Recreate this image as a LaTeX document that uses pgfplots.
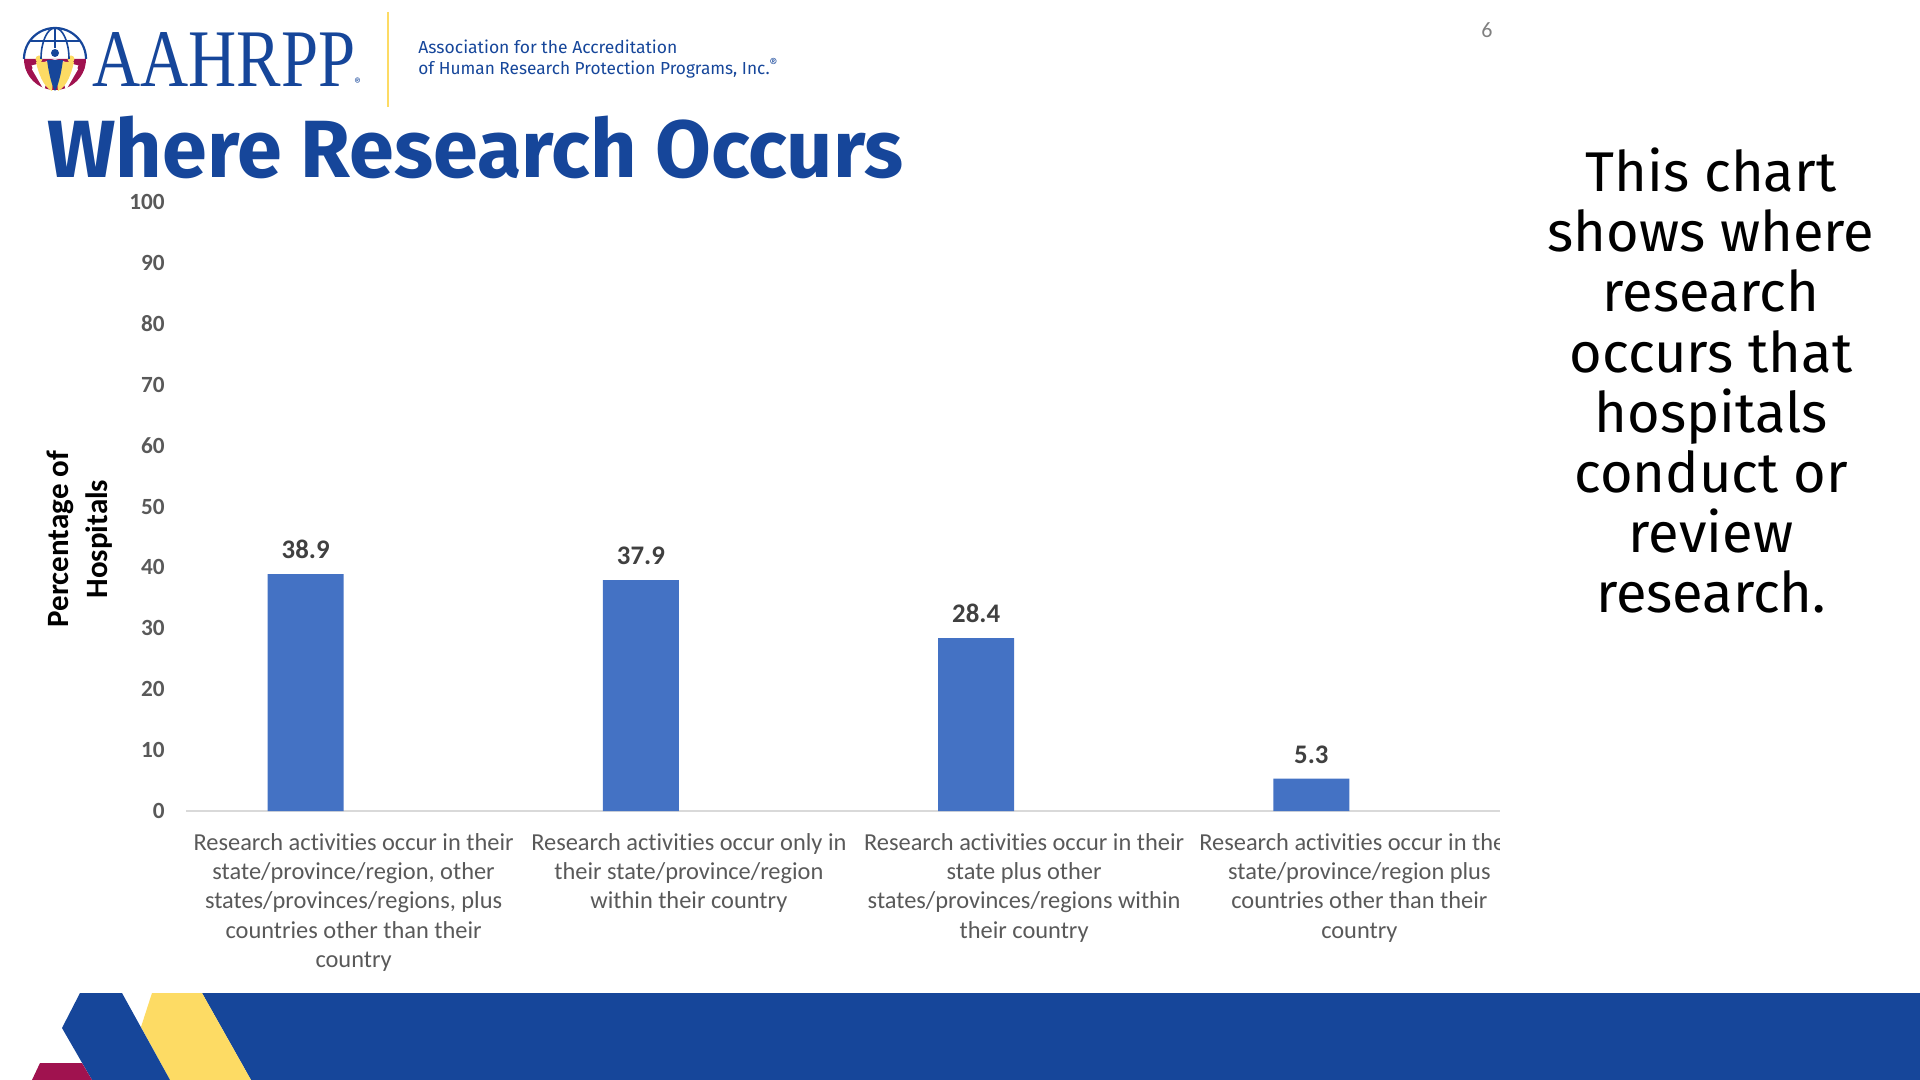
\documentclass[border=0pt]{standalone}
\usepackage{fontspec}
\setmainfont{Carlito}[Ligatures=NoCommon]
\newfontfamily\fira{Fira Sans}
\newfontfamily\libserif{Liberation Serif}
\usepackage{graphicx}
\usepackage{pgfplots}
\pgfplotsset{compat=1.18}
\definecolor{brand}{HTML}{16469A}
\definecolor{brandyellow}{HTML}{FDDB64}
\definecolor{crimson}{HTML}{A0124F}
\definecolor{barblue}{HTML}{4472C4}
\definecolor{tickgray}{HTML}{595959}
\definecolor{labelgray}{HTML}{404040}
\definecolor{axisgray}{HTML}{D9D9D9}
\begin{document}
\begin{tikzpicture}
\useasboundingbox (0,0) rectangle (960pt,-540pt);
\begin{scope}[x=0.5pt,y=-0.5pt]
  % bottom banner
  \fill[brand] (202,993) -- (1920,993) -- (1920,1080) -- (251,1080) -- cycle;
  \fill[brandyellow] (152,993) -- (202,993) -- (251,1080) -- (170,1080) -- (141,1027) -- cycle;
  \fill[brand] (80,993) -- (122,993) -- (170,1080) -- (92,1080) -- (62,1028) -- cycle;
  \fill[crimson] (40,1063) -- (82,1063) -- (92,1080) -- (32,1080) -- cycle;
  % globe logo
  \fill[crimson] (86,59) arc[start angle=0,end angle=180,radius=31] -- cycle;
  \fill[white] (55,59) -- (30,66) -- (44,90) -- cycle;
  \fill[white] (55,59) -- (80,66) -- (66,90) -- cycle;
  \fill[brandyellow] (36,62) .. controls (40,80) and (46,88) .. (52,91) -- (55,62) -- cycle;
  \fill[brandyellow] (74,62) .. controls (70,80) and (64,88) .. (58,91) -- (55,62) -- cycle;
  \fill[brand] (47,60) .. controls (49,75) and (52,86) .. (55,91) .. controls (58,86) and (61,75) .. (63,60) -- cycle;
  \fill[brand] (55,53) circle (4);
  \fill[brandyellow] (39,59) circle (3.5);
  \fill[brandyellow] (71,59) circle (3.5);
  \fill[crimson] (29,68) circle (3.5);
  \fill[crimson] (81,68) circle (3.5);
  \draw[brand, line width=1.1pt] (24,59) arc[start angle=180,end angle=360,radius=31];
  \draw[brand, line width=0.8pt] (55,28) -- (55,48);
  \draw[brand, line width=0.8pt] (41,59) arc[start angle=180,end angle=360,x radius=14,y radius=31];
  \draw[brand, line width=0.8pt] (30,41) -- (80,41);
  \node[anchor=base west, inner sep=0pt, text=brand] at (92,87)
    {\resizebox{131.5pt}{27pt}{\libserif AAHRPP}};
  \node[anchor=base west, inner sep=0pt, text=brand, font=\fira\fontsize{5}{6}\selectfont] at (354,86) {®};
  \draw[brandyellow, line width=1pt] (388,12) -- (388,107);
  \node[anchor=base west, inner sep=0pt, text=brand] at (418,54)
    {\resizebox{129.5pt}{\height}{\fira\fontsize{8.7}{10}\selectfont Association for the Accreditation}};
  \node[anchor=base west, inner sep=0pt, text=brand] at (418,75)
    {\resizebox{180pt}{\height}{\fira\fontsize{8.7}{10}\selectfont of Human Research Protection Programs, Inc.\textsuperscript{®}}};
  % page number
  \node[inner sep=0pt, text=gray, font=\fontsize{11}{13}\selectfont] at (1487,30) {6};
  % title
  \node[anchor=base west, inner sep=0pt, text=brand] at (47,178)
    {\resizebox{428pt}{\height}{\fira\bfseries\fontsize{40.6}{44}\selectfont Where Research Occurs}};
\end{scope}
\begin{axis}[
  at={(93pt,-405.5pt)}, anchor=south west,
  scale only axis, width=670.5pt, height=304.5pt,
  xmin=-0.5, xmax=3.5, ymin=0, ymax=100,
  ybar, bar width=38pt, bar shift=-24pt,
  axis line style={draw=none},
  tick style={draw=none},
  major tick length=0pt,
  ytick={0,10,...,100},
  xtick={0,1,2,3},
  xticklabels={
    {Research activities occur in their\\state/province/region, other\\states/provinces/regions, plus\\countries other than their\\country},
    {Research activities occur only in\\their state/province/region\\within their country},
    {Research activities occur in their\\state plus other\\states/provinces/regions within\\their country},
    {Research activities occur in their\\state/province/region plus\\countries other than their\\country}},
  xticklabel style={align=center, anchor=north, inner sep=0pt, yshift=-10.9pt,
    font=\fontsize{12.2}{14.7}\selectfont, text=tickgray},
  /pgf/number format/assume math mode=true,
  yticklabel style={anchor=east, inner sep=0pt, xshift=-10.5pt,
    font=\bfseries\fontsize{11.6}{13}\selectfont, text=tickgray},
  ylabel={Percentage of\\Hospitals},
  ylabel style={at={(axis description cs:-0.0794,0.4466)}, anchor=center, align=center,
    font=\bfseries\fontsize{15.5}{19.5}\selectfont, text=black},
  nodes near coords={\pgfmathprintnumber[fixed,fixed zerofill,precision=1]{\pgfplotspointmeta}},
  every node near coord/.append style={font=\bfseries\fontsize{13.4}{16}\selectfont,
    text=labelgray, inner sep=0pt, anchor=south, yshift=7.5pt},
  clip=false,
]
\draw[axisgray, line width=1pt] (axis cs:-0.5,0) -- (axis cs:3.5,0);
\addplot[fill=barblue, draw=none] coordinates {(0,38.9) (1,37.9) (2,28.4) (3,5.3)};
\end{axis}
% white panel clipping the chart on the right
\fill[white] (750pt,-320pt) rectangle (790pt,-495pt);
% right text
\begin{scope}[every node/.style={anchor=base, inner sep=0pt, font=\fira\fontsize{28}{30}\selectfont}]
  \node at (855.5pt,-96pt) {This chart};
  \node at (855.5pt,-126pt) {shows where};
  \node at (855.5pt,-156pt) {research};
  \node at (855.5pt,-186pt) {occurs that};
  \node at (855.5pt,-216pt) {hospitals};
  \node at (855.5pt,-246pt) {conduct or};
  \node at (855.5pt,-276pt) {review};
  \node at (855.5pt,-306pt) {research.};
\end{scope}
\end{tikzpicture}
\end{document}
